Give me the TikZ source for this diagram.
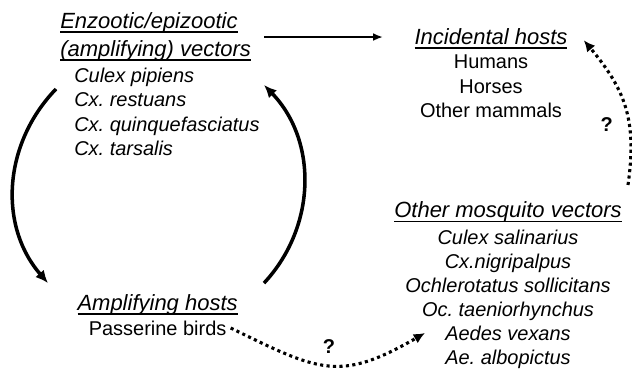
\documentclass[tikz,border=0pt]{standalone}
\usepackage{fontspec}
\setmainfont{Liberation Sans}
\usetikzlibrary{positioning,arrows.meta}
\frenchspacing
\newsavebox{\hdrbox}
\newcommand{\hdrline}[1]{\sbox{\hdrbox}{#1}\rlap{\usebox{\hdrbox}}\rule[-3.1pt]{\wd\hdrbox}{1.2pt}}
\tikzset{
  cycarrow/.style={-{Latex[length=9pt,width=8pt]}, line width=2.5pt},
  feedarrow/.style={-{Latex[length=7pt,width=5.5pt]}, line width=1.5pt},
  maybearrow/.style={-{Latex[length=8pt,width=7.5pt]}, line width=2.2pt, dash pattern=on 2.2pt off 2.4pt},
  headtext/.style={font=\fontsize{15.65}{19.9}\selectfont\itshape, inner sep=0pt},
  spplist/.style={font=\fontsize{14.2}{17.4}\selectfont\itshape, inner sep=0pt},
  hostlist/.style={font=\fontsize{14.2}{17.4}\selectfont, inner sep=0pt},
  qmark/.style={font=\fontsize{14.2}{17}\selectfont\bfseries, inner sep=0pt}
}
\begin{document}
\begin{tikzpicture}
  \useasboundingbox (0,0) rectangle (15.8,9.25);
  % transmission blocks (base = last line)
  \node[headtext, align=left, anchor=base west] (vecthead) at (1.5,7.8325) {\hdrline{Enzootic/epizootic}\\\hdrline{(amplifying) vectors}};
  \node[spplist, align=left, anchor=base west] (vectlist) at (1.85,5.3575) {Culex pipiens\\Cx. restuans\\Cx. quinquefasciatus\\Cx. tarsalis};
  \node[headtext, anchor=base] (inchead) at (12.275,8.1425) {\hdrline{Incidental hosts}};
  \node[hostlist, align=center, anchor=base] (inclist) at (12.275,6.3025) {Humans\\Horses\\Other mammals};
  \node[headtext, anchor=base] (othhead) at (12.7,3.8) {\hdrline{Other mosquito vectors}};
  \node[spplist, align=center, anchor=base, font=\fontsize{14.2}{17.1}\selectfont\itshape] (othlist) at (12.7,0.125) {Culex salinarius\\Cx.nigripalpus\\Ochlerotatus sollicitans\\Oc. taeniorhynchus\\Aedes vexans\\Ae. albopictus};
  \node[headtext, anchor=base] (amphead) at (3.94,1.4825) {\hdrline{Amplifying hosts}};
  \node[hostlist, anchor=base] (amplist) at (3.94,0.85) {Passerine birds};
  % connectors
  \draw[feedarrow] ([xshift=0.33cm]vecthead.east) -- ([xshift=-0.78cm]vecthead.east -| inchead.west);
  \draw[cycarrow] ([shift={(-0.45,1.6675)}]vectlist.base west) to[out=226, in=131] ([shift={(-2.74,0.69)}]amphead.base);
  \draw[cycarrow] ([shift={(2.66,0.69)}]amphead.base) to[out=47, in=-46] ([shift={(4.75,1.7675)}]vectlist.base west);
  \draw[maybearrow] ([shift={(3.0,0.825)}]othhead.base) to[out=82, in=-50, looseness=1.1] node[qmark, pos=0.37, left=0.37cm] (qhigh) {?} ([shift={(2.32,0.1)}]inchead.base);
  \draw[maybearrow] ([shift={(0.1,0.2)}]amplist.base east) to[out=-26, in=-150, looseness=1.3] node[qmark, pos=0.5, above=0.25cm] (qlow) {?} ([shift={(-2.075,0.8)}]othlist.base);
\end{tikzpicture}
\end{document}
